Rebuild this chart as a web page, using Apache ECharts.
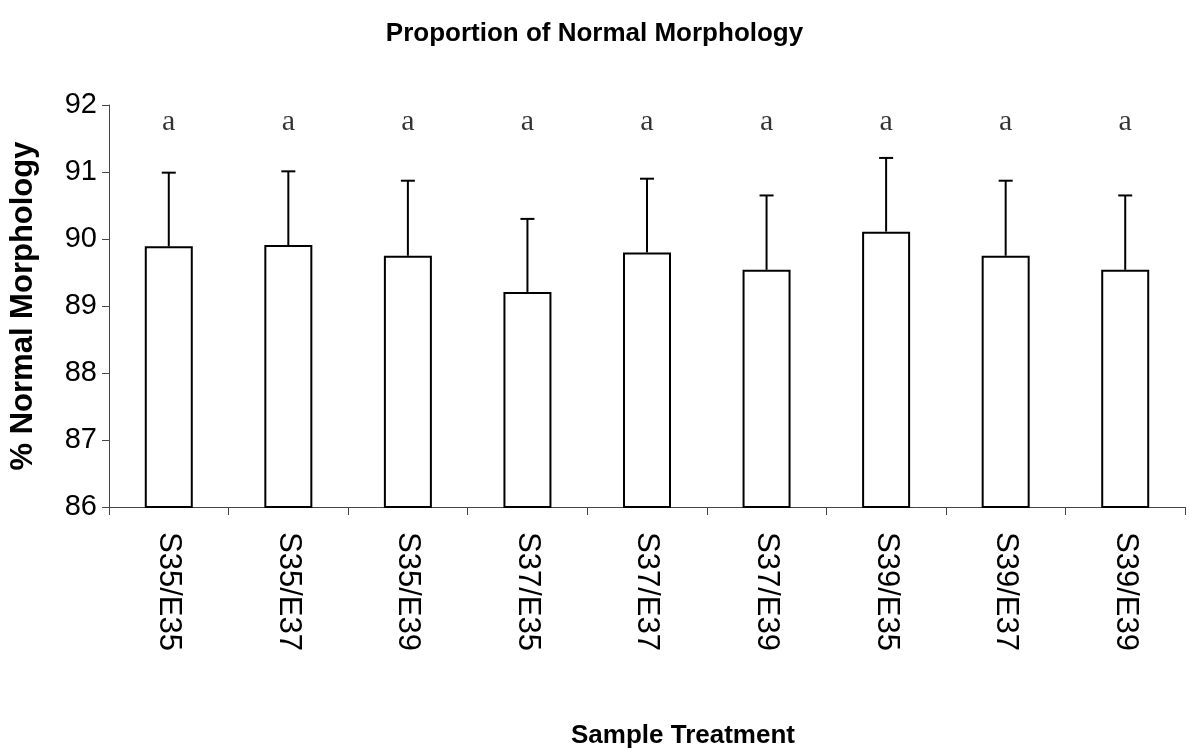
<!DOCTYPE html>
<html>
<head>
<meta charset="utf-8">
<script src="https://cdn.jsdelivr.net/npm/echarts@6/dist/echarts.min.js"></script>
<style>
html,body{margin:0;padding:0;background:#fff;}
#chart{width:1189px;height:754px;}
</style>
</head>
<body>
<div id="chart"></div>
<script>
var categories = ['S35/E35','S35/E37','S35/E39','S37/E35','S37/E37','S37/E39','S39/E35','S39/E37','S39/E39'];
var means = [89.89, 89.91, 89.75, 89.21, 89.80, 89.54, 90.11, 89.75, 89.54];
var errorTops = [90.99, 91.01, 90.87, 90.30, 90.90, 90.65, 91.21, 90.87, 90.65];
var letters = ['a','a','a','a','a','a','a','a','a'];
var letterLevel = 91.75;
var yTicks = [86, 87, 88, 89, 90, 91, 92];

var chart = echarts.init(document.getElementById('chart'), null, {renderer:'canvas'});

var errData = categories.map(function(c, i){ return [i, means[i], errorTops[i]]; });
var letterData = categories.map(function(c, i){ return [i, letterLevel, letters[i]]; });

var option = {
  backgroundColor: '#ffffff',
  animation: false,
  title: {
    text: 'Proportion of Normal Morphology',
    left: 'center',
    top: 16,
    textStyle: {fontFamily: 'Liberation Sans, Arial, sans-serif', fontWeight: 'bold', fontSize: 26, color: '#000'}
  },
  grid: {left: 100, right: 4, top: 105, bottom: 235, containLabel: false},
  xAxis: {
    type: 'category',
    data: categories,
    boundaryGap: true,
    name: 'Sample Treatment',
    nameLocation: 'middle',
    nameGap: 216,
    nameTextStyle: {fontFamily: 'Liberation Sans, Arial, sans-serif', fontWeight: 'bold', fontSize: 26, color: '#000', padding: [0, 0, 0, 72]},
    axisLine: {lineStyle: {color: '#444', width: 1}},
    axisTick: {show: true, length: 8, alignWithLabel: false, lineStyle: {color: '#444'}},
    axisLabel: {rotate: -90, margin: 25, fontFamily: 'Liberation Sans, Arial, sans-serif', fontSize: 31, color: '#000'},
    splitLine: {show: false}
  },
  yAxis: {
    type: 'value',
    min: yTicks[0],
    max: yTicks[yTicks.length - 1],
    interval: 1,
    name: '% Normal Morphology',
    nameLocation: 'middle',
    nameGap: 70,
    nameRotate: 90,
    nameTextStyle: {fontFamily: 'Liberation Sans, Arial, sans-serif', fontWeight: 'bold', fontSize: 31, color: '#000'},
    axisLine: {show: true, lineStyle: {color: '#444', width: 1}},
    axisTick: {show: true, length: 7, lineStyle: {color: '#444'}},
    axisLabel: {margin: 12, fontFamily: 'Liberation Sans, Arial, sans-serif', fontSize: 29, color: '#000'},
    splitLine: {show: false}
  },
  series: [
    {
      type: 'bar',
      data: means,
      barWidth: 48,
      itemStyle: {color: '#ffffff', borderColor: '#000', borderWidth: 2},
      z: 2
    },
    {
      type: 'custom',
      data: errData,
      z: 3,
      renderItem: function(params, api){
        var x = api.value(0);
        var base = api.coord([x, api.value(1)]);
        var top = api.coord([x, api.value(2)]);
        var cap = 7;
        return {
          type: 'group',
          children: [
            {type: 'line', shape: {x1: base[0], y1: base[1], x2: top[0], y2: top[1]}, style: {stroke: '#000', lineWidth: 2}},
            {type: 'line', shape: {x1: top[0] - cap, y1: top[1], x2: top[0] + cap, y2: top[1]}, style: {stroke: '#000', lineWidth: 2}}
          ]
        };
      }
    },
    {
      type: 'scatter',
      data: letterData,
      symbolSize: 0,
      label: {
        show: true,
        position: 'inside',
        formatter: function(p){ return p.value[2]; },
        fontFamily: 'Liberation Serif, Times New Roman, serif',
        fontSize: 30,
        color: '#000'
      },
      z: 4
    }
  ]
};
chart.setOption(option);
</script>
</body>
</html>
